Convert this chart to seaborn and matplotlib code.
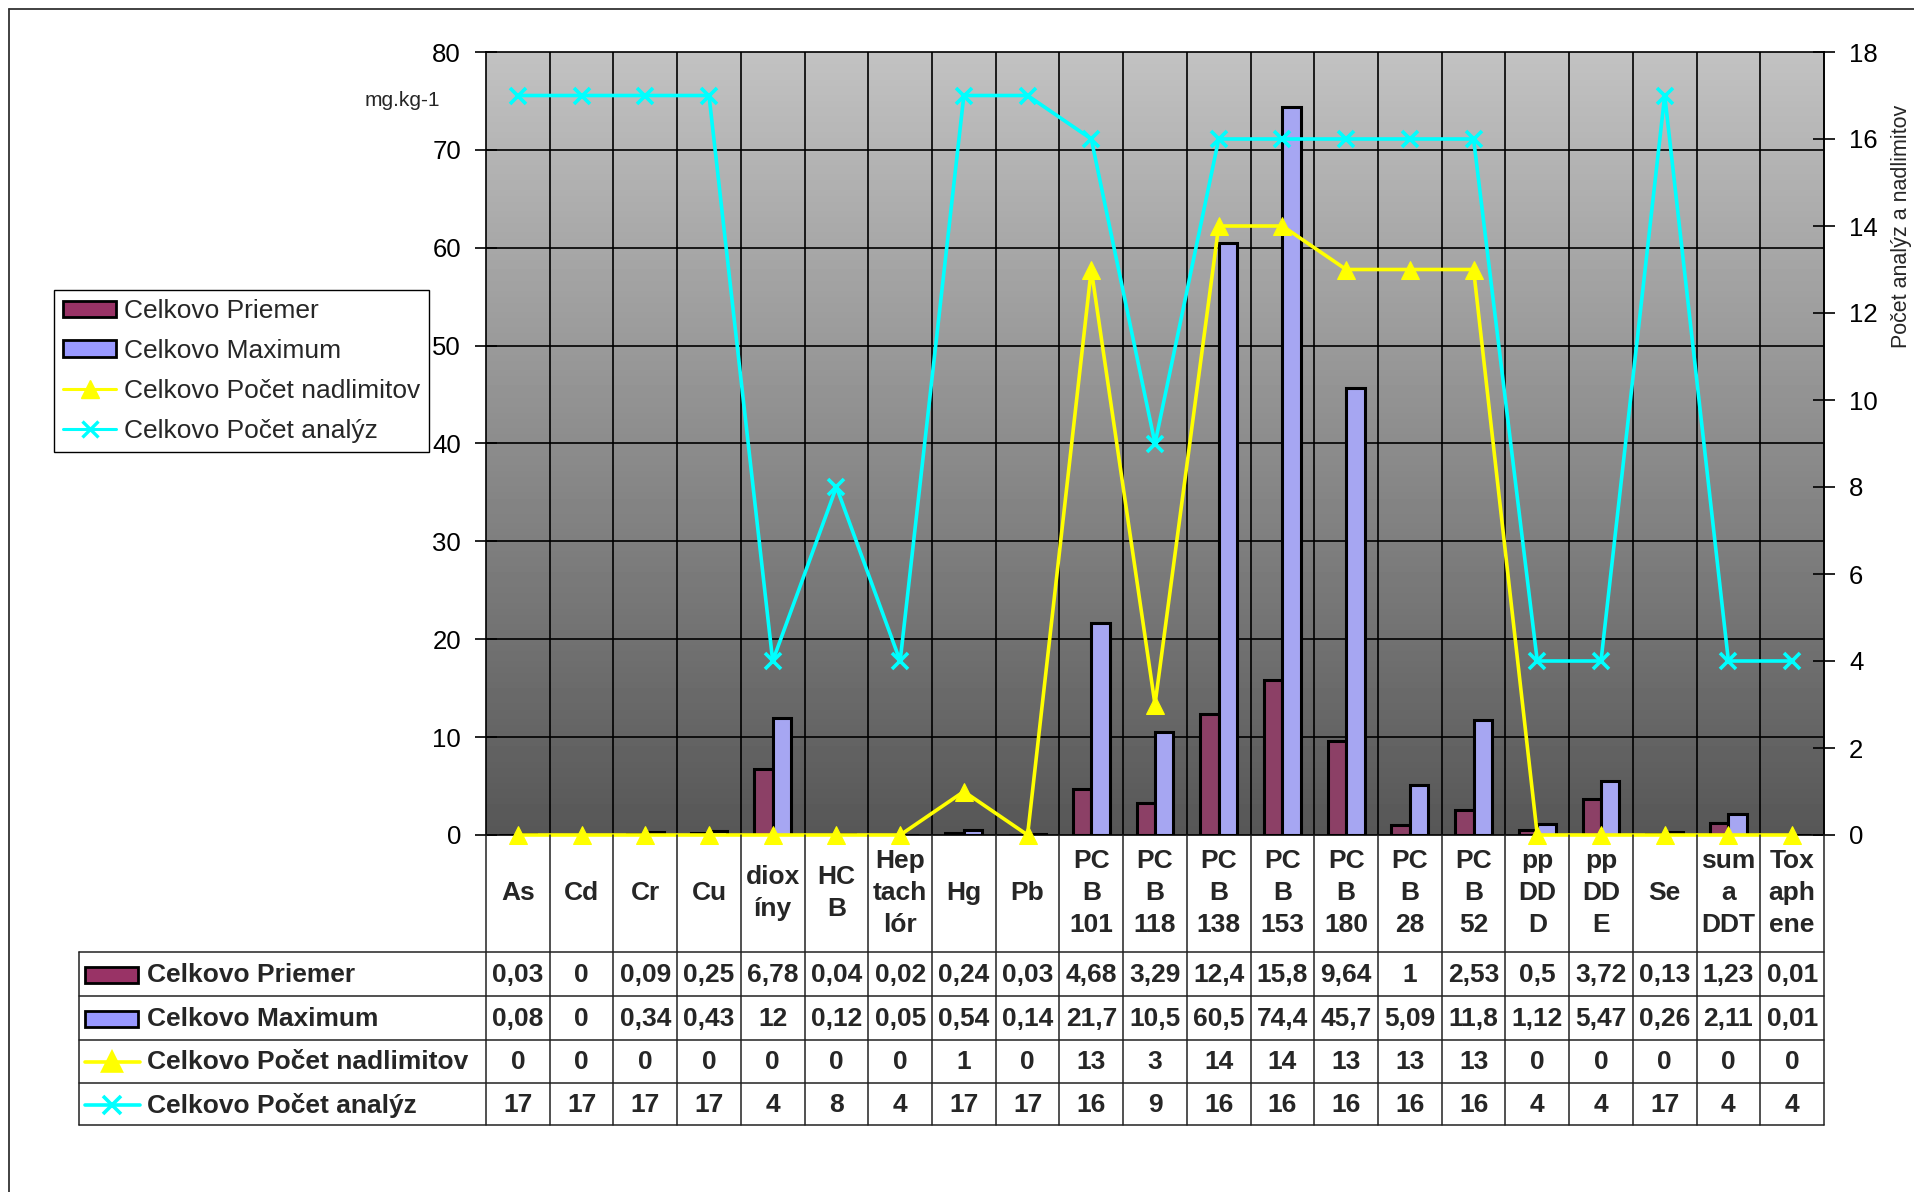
import numpy as np
import pandas as pd
import matplotlib
matplotlib.use("Agg")
import matplotlib.pyplot as plt
import seaborn as sns
from matplotlib.patches import Rectangle
from matplotlib.lines import Line2D
from matplotlib.transforms import blended_transform_factory

# ---------------- data ----------------
categories = ["As", "Cd", "Cr", "Cu", "dioxíny", "HCB", "Heptachlór", "Hg", "Pb",
              "PCB 101", "PCB 118", "PCB 138", "PCB 153", "PCB 180", "PCB 28", "PCB 52",
              "ppDDD", "ppDDE", "Se", "suma DDT", "Toxaphene"]
category_labels = ["As", "Cd", "Cr", "Cu", "diox\níny", "HC\nB", "Hep\ntach\nlór", "Hg", "Pb",
                   "PC\nB\n101", "PC\nB\n118", "PC\nB\n138", "PC\nB\n153", "PC\nB\n180",
                   "PC\nB\n28", "PC\nB\n52", "pp\nDD\nD", "pp\nDD\nE", "Se", "sum\na\nDDT",
                   "Tox\naph\nene"]
priemer = [0.03, 0, 0.09, 0.25, 6.78, 0.04, 0.02, 0.24, 0.03, 4.68, 3.29, 12.4, 15.8,
           9.64, 1, 2.53, 0.5, 3.72, 0.13, 1.23, 0.01]
maximum = [0.08, 0, 0.34, 0.43, 12, 0.12, 0.05, 0.54, 0.14, 21.7, 10.5, 60.5, 74.4,
           45.7, 5.09, 11.8, 1.12, 5.47, 0.26, 2.11, 0.01]
nadlimit = [0, 0, 0, 0, 0, 0, 0, 1, 0, 13, 3, 14, 14, 13, 13, 13, 0, 0, 0, 0, 0]
analyz = [17, 17, 17, 17, 4, 8, 4, 17, 17, 16, 9, 16, 16, 16, 16, 16, 4, 4, 17, 4, 4]

series_names = ["Celkovo Priemer", "Celkovo Maximum",
                "Celkovo Počet nadlimitov", "Celkovo Počet analýz"]
left_ticks = list(range(0, 81, 10))
right_ticks = list(range(0, 19, 2))
unit_label = "mg.kg-1"
right_label = "Počet analýz a nadlimitov"

C_PRI = "#993366"
C_MAX = "#9999ff"
C_NAD = "#ffff00"
C_ANA = "#00ffff"

# ---------------- style ----------------
sns.set_style("white")
plt.rcParams["font.family"] = ["Liberation Sans", "DejaVu Sans"]

W, H = 1914, 1192
fig = plt.figure(figsize=(W / 100, H / 100), dpi=100)

def fx(px):
    return px / W

def fy(py):
    return 1 - py / H

L, R, T, B = 486, 1824, 52, 835
ax = fig.add_axes([fx(L), fy(B), fx(R) - fx(L), fy(T) - fy(B)])

n = len(categories)
df = pd.DataFrame({
    "cat": categories * 2,
    "value": priemer + maximum,
    "series": [series_names[0]] * n + [series_names[1]] * n,
})
sns.barplot(data=df, x="cat", y="value", hue="series", order=categories,
            hue_order=series_names[:2], palette=[C_PRI, C_MAX], edgecolor="black",
            linewidth=2.2, width=0.58, gap=0, ax=ax, legend=False, zorder=2)

# gradient background (light at top, dark at bottom)
grad = np.linspace(0.76, 0.34, 256).reshape(-1, 1)
ax.imshow(grad, extent=[-0.5, n - 0.5, 0, 80], aspect="auto", cmap="gray",
          vmin=0, vmax=1, zorder=0, origin="upper")
ax.set_xlim(-0.5, n - 0.5)
ax.set_ylim(0, 80)
ax.set_yticks(left_ticks)
for y in left_ticks[1:-1]:
    ax.axhline(y, color="black", lw=1.2, zorder=0.6)
for i in range(n - 1):
    ax.axvline(i + 0.5, color="black", lw=1.2, zorder=0.6)
ax.set_xticks(range(n))
ax.set_xticklabels([""] * n)
ax.tick_params(axis="x", length=0)
ax.tick_params(axis="y", direction="inout", length=16, width=1.2, pad=10,
               labelsize=18.5, colors="black", left=True)
ax.set_xlabel("")
ax.set_ylabel("")
for s in ax.spines.values():
    s.set_color("black")
    s.set_linewidth(1.2)
    s.set_visible(True)

# secondary axis with lines
ax2 = ax.twinx()
xpos = np.arange(n)
sns.lineplot(x=xpos, y=nadlimit, ax=ax2, color=C_NAD, lw=2.6, marker="^",
             markersize=13, markeredgecolor=C_NAD, markerfacecolor=C_NAD,
             clip_on=False, zorder=5)
sns.lineplot(x=xpos, y=analyz, ax=ax2, color=C_ANA, lw=2.6, marker="x",
             markersize=12, markeredgewidth=2.6, markeredgecolor=C_ANA,
             clip_on=False, zorder=6)
ax2.set_ylim(0, 18)
ax2.set_xlim(-0.5, n - 0.5)
ax2.set_yticks(right_ticks)
ax2.tick_params(axis="y", direction="inout", length=16, width=1.2, pad=10,
                labelsize=18.5, colors="black", right=True)
ax2.set_ylabel("")
for s in ax2.spines.values():
    s.set_visible(False)
ax2.spines["right"].set_visible(True)
ax2.spines["right"].set_color("black")
ax2.spines["right"].set_linewidth(1.2)

# category labels below the plot
tb = blended_transform_factory(ax.transData, fig.transFigure)
for i, lab in enumerate(category_labels):
    fig.text(i, fy(893), lab, transform=tb, fontsize=19, fontweight="bold",
             ha="center", va="center", multialignment="center", linespacing=1.42)

# table grid lines
LC = "#222222"
for i in range(n + 1):
    fig.add_artist(Line2D([i - 0.5, i - 0.5], [fy(835), fy(1125)], transform=tb,
                          color=LC, lw=1.1))
for yy in [952, 996, 1040, 1083, 1125]:
    fig.add_artist(Line2D([fx(79), fx(R)], [fy(yy), fy(yy)], color=LC, lw=1.1))
fig.add_artist(Line2D([fx(79), fx(79)], [fy(952), fy(1125)], color=LC, lw=1.1))

row_centers = [975, 1019, 1062, 1105]
rows = [priemer, maximum, nadlimit, analyz]

def fmt(v):
    return f"{v:g}".replace(".", ",")

for rc, vals in zip(row_centers, rows):
    for i, v in enumerate(vals):
        fig.text(i, fy(rc), fmt(v), transform=tb, fontsize=19, fontweight="bold",
                 ha="center", va="center")

# row header keys
for k, (rc, name) in enumerate(zip(row_centers, series_names)):
    if k < 2:
        fig.add_artist(Rectangle((fx(85), fy(rc + 8)), fx(138) - fx(85), fy(rc - 8) - fy(rc + 8),
                                 transform=fig.transFigure, facecolor=[C_PRI, C_MAX][k],
                                 edgecolor="black", lw=2))
    else:
        col = [C_NAD, C_ANA][k - 2]
        mk = ["^", "x"][k - 2]
        fig.add_artist(Line2D([fx(85), fx(140)], [fy(rc), fy(rc)], color=col, lw=2.6))
        fig.add_artist(Line2D([fx(112)], [fy(rc)], color=col, marker=mk, markersize=13,
                              markeredgewidth=2.6, markeredgecolor=col, markerfacecolor=col,
                              linestyle="none"))
    fig.text(fx(147), fy(rc), name, fontsize=19, fontweight="bold", ha="left", va="center")

# legend
handles = [
    Rectangle((0, 0), 1, 1, facecolor=C_PRI, edgecolor="black", lw=2),
    Rectangle((0, 0), 1, 1, facecolor=C_MAX, edgecolor="black", lw=2),
    Line2D([], [], color=C_NAD, lw=2.2, marker="^", markersize=13, markeredgecolor=C_NAD),
    Line2D([], [], color=C_ANA, lw=2.2, marker="x", markersize=12, markeredgewidth=2.4),
]
leg = fig.legend(handles, series_names, loc="upper left",
                 bbox_to_anchor=(fx(54), fy(290)), frameon=True, fancybox=False,
                 shadow=False, fontsize=19, handlelength=2.0, handleheight=0.6,
                 labelspacing=0.6, borderpad=0.35, borderaxespad=0, handletextpad=0.3,
                 facecolor="white", framealpha=1, edgecolor="black")
leg.get_frame().set_linewidth(1.0)

# extra texts
fig.text(fx(402), fy(100), unit_label, fontsize=15, ha="center", va="center")
fig.text(fx(1901), fy(226), right_label, fontsize=15.5, rotation=90,
         ha="center", va="center")

# chart area border (left and top visible)
fig.add_artist(Line2D([fx(9), fx(9)], [fy(9), fy(1200)], color="#333333", lw=1.3))
fig.add_artist(Line2D([fx(9), fx(1920)], [fy(9), fy(9)], color="#333333", lw=1.3))

fig.savefig("out.png", dpi=100)
